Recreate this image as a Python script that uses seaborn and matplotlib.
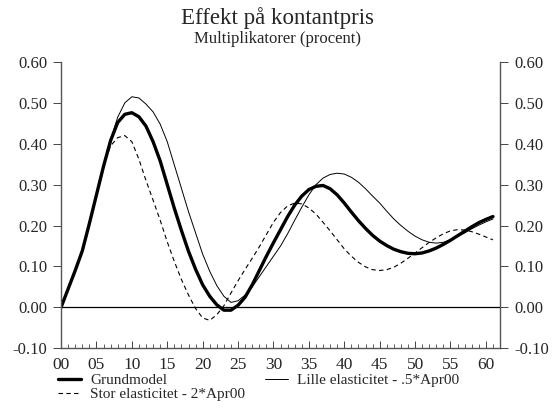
import numpy as np
import pandas as pd
import matplotlib
matplotlib.use("Agg")
import matplotlib.pyplot as plt
import seaborn as sns
from matplotlib.ticker import MultipleLocator, FuncFormatter

periods = list(range(0, 62))

grundmodel = [0.000, 0.045, 0.090, 0.138, 0.205, 0.275, 0.345, 0.408, 0.452, 0.472,
              0.476, 0.466, 0.443, 0.405, 0.358, 0.300, 0.242, 0.188, 0.137, 0.093,
              0.055, 0.027, 0.006, -0.007, -0.007, 0.005, 0.025, 0.055, 0.090, 0.125,
              0.158, 0.190, 0.222, 0.250, 0.272, 0.288, 0.296, 0.298, 0.290, 0.275,
              0.255, 0.233, 0.212, 0.193, 0.176, 0.162, 0.151, 0.142, 0.136, 0.132,
              0.131, 0.133, 0.138, 0.145, 0.154, 0.164, 0.175, 0.186, 0.197, 0.207,
              0.215, 0.222]

lille = [0.000, 0.045, 0.090, 0.138, 0.205, 0.275, 0.345, 0.410, 0.465, 0.500,
         0.515, 0.512, 0.497, 0.478, 0.448, 0.405, 0.348, 0.291, 0.234, 0.182,
         0.130, 0.088, 0.053, 0.027, 0.012, 0.016, 0.030, 0.050, 0.075, 0.100,
         0.125, 0.150, 0.180, 0.213, 0.245, 0.275, 0.300, 0.316, 0.325, 0.328,
         0.326, 0.318, 0.306, 0.290, 0.272, 0.255, 0.235, 0.216, 0.200, 0.186,
         0.174, 0.165, 0.159, 0.157, 0.159, 0.165, 0.173, 0.182, 0.192, 0.201,
         0.209, 0.216]

stor = [0.000, 0.045, 0.090, 0.138, 0.205, 0.275, 0.345, 0.395, 0.415, 0.420,
        0.405, 0.362, 0.310, 0.262, 0.213, 0.160, 0.112, 0.068, 0.030, -0.003,
        -0.026, -0.032, -0.018, 0.004, 0.035, 0.065, 0.093, 0.120, 0.148, 0.178,
        0.208, 0.232, 0.248, 0.255, 0.253, 0.243, 0.228, 0.208, 0.187, 0.165,
        0.143, 0.125, 0.110, 0.099, 0.092, 0.090, 0.092, 0.098, 0.108, 0.120,
        0.133, 0.146, 0.159, 0.170, 0.180, 0.187, 0.190, 0.189, 0.185, 0.179,
        0.172, 0.165]

series_names = ["Grundmodel", "Lille elasticitet - .5*Apr00", "Stor elasticitet - 2*Apr00"]
y_ticks = [-0.10, 0.00, 0.10, 0.20, 0.30, 0.40, 0.50, 0.60]
x_ticks = list(range(0, 61, 5))

df = pd.DataFrame({"t": periods, series_names[0]: grundmodel,
                   series_names[1]: lille, series_names[2]: stor})

sns.set_style("ticks")
plt.rcParams['font.family'] = ['Liberation Serif', 'DejaVu Serif']

fig = plt.figure(figsize=(5.55, 4.19), dpi=100)
ax = fig.add_axes([0.110, 0.169, 0.791, 0.683])

sns.lineplot(data=df, x="t", y=series_names[0], ax=ax, color="black", linewidth=2.4,
             label=series_names[0])
sns.lineplot(data=df, x="t", y=series_names[2], ax=ax, color="black", linewidth=0.8,
             linestyle=(0, (4, 3)), label=series_names[2])
sns.lineplot(data=df, x="t", y=series_names[1], ax=ax, color="black", linewidth=0.7,
             label=series_names[1])

ax.axhline(0, color="black", linewidth=0.9, zorder=1)

ax.set_xlim(0, 62)
ax.set_ylim(-0.10, 0.60)
ax.set_xlabel("")
ax.set_ylabel("")
ax.set_xticks(x_ticks)
ax.xaxis.set_minor_locator(MultipleLocator(1))
ax.xaxis.set_major_formatter(FuncFormatter(lambda v, p: f"{int(v):02d}"))
ax.set_yticks(y_ticks)
ax.yaxis.set_major_formatter(FuncFormatter(lambda v, p: f"{v:.2f}"))

ax.tick_params(axis="x", which="major", direction="in", length=5, width=0.7,
               labelsize=12.5, pad=6, color="#444444")
ax.tick_params(axis="x", which="minor", direction="in", length=3, width=0.6, color="#444444")
ax.tick_params(axis="y", which="major", direction="out", length=6, width=0.7,
               labelsize=12, left=True, right=True, labelleft=True, labelright=True,
               color="#444444", pad=4)

for side in ["left", "right", "bottom"]:
    ax.spines[side].set_visible(True)
    ax.spines[side].set_color("#555555")
    ax.spines[side].set_linewidth(1.0)
ax.spines["top"].set_visible(False)

fig.text(0.5, 0.958, "Effekt på kontantpris", ha="center", va="center", fontsize=16.5)
fig.text(0.5, 0.908, "Multiplikatorer (procent)", ha="center", va="center", fontsize=12)

handles, labels = ax.get_legend_handles_labels()
ax.legend_.remove()
fig.legend(handles, labels, ncol=2, loc="upper left", bbox_to_anchor=(0.105, 0.108),
           frameon=False, fontsize=11, handlelength=1.5, handletextpad=0.6,
           columnspacing=1.3, labelspacing=0.0, borderaxespad=0, borderpad=0)

fig.savefig("out.png", dpi=100)
